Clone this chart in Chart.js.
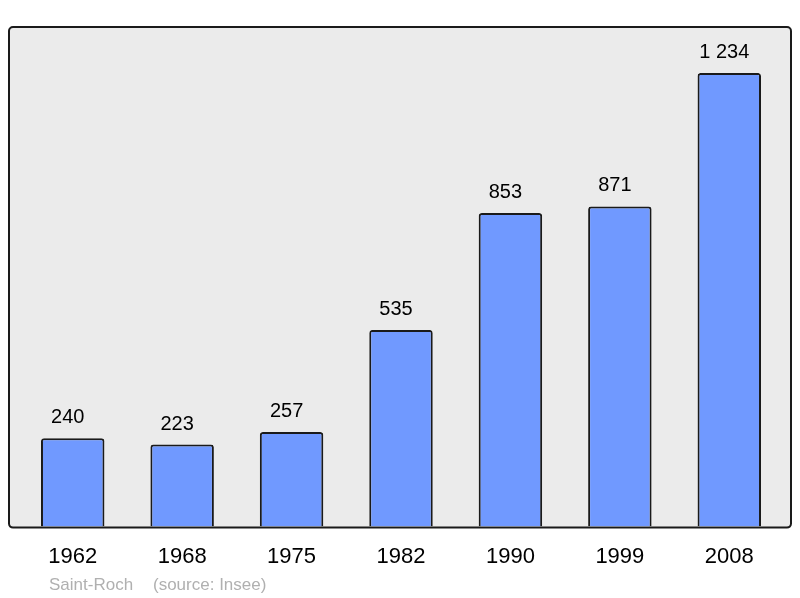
<!DOCTYPE html>
<html>
<head>
<meta charset="utf-8">
<script src="https://cdn.jsdelivr.net/npm/chart.js@4"></script>
<style>
    body { margin: 0; background: #ffffff; }
</style>
</head>
<body>
<canvas id="popChart" width="800" height="598"></canvas>
<script>
const years = ["1962", "1968", "1975", "1982", "1990", "1999", "2008"];
const population = [240, 223, 257, 535, 853, 871, 1234];
const valueLabels = ["240", "223", "257", "535", "853", "871", "1 234"];

// Grey framed panel behind the bars
const panelPlugin = {
    id: "panel",
    beforeDraw: (chart) => {
        const { ctx, chartArea } = chart;
        const x = chartArea.left - 9;
        const y = chartArea.top;
        const w = chartArea.right + 7 - x;
        const h = chartArea.bottom + 1 - y;
        ctx.save();
        ctx.beginPath();
        ctx.roundRect(x, y, w, h, 4);
        ctx.fillStyle = "#ebebeb";
        ctx.fill();
        ctx.lineWidth = 2;
        ctx.strokeStyle = "#1a1a1a";
        ctx.stroke();
        ctx.restore();
    },
};

// Value above each bar, plus the footer text
const labelPlugin = {
    id: "valueLabels",
    afterDatasetsDraw: (chart) => {
        const { ctx } = chart;
        const meta = chart.getDatasetMeta(0);
        ctx.save();
        ctx.font = "20px 'Liberation Sans', Arial, sans-serif";
        ctx.fillStyle = "#000000";
        ctx.textAlign = "center";
        ctx.textBaseline = "alphabetic";
        meta.data.forEach((bar, i) => {
            ctx.fillText(valueLabels[i], bar.x - 5, bar.y - 15);
        });
        ctx.font = "17px 'Liberation Sans', Arial, sans-serif";
        ctx.fillStyle = "#b0b0b0";
        ctx.textAlign = "left";
        ctx.fillText("Saint-Roch", 49, 590);
        ctx.fillText("(source: Insee)", 153, 590);
        ctx.restore();
    },
};

const ctx = document.getElementById("popChart").getContext("2d");

new Chart(ctx, {
    type: "bar",
    data: {
        labels: years,
        datasets: [
            {
                data: population,
                backgroundColor: "#7099ff",
                borderColor: "#1a1a1a",
                borderWidth: 2,
                borderSkipped: "bottom",
                borderRadius: 3,
                barPercentage: 0.58,
                categoryPercentage: 1,
            },
        ],
    },
    options: {
        responsive: false,
        devicePixelRatio: 1,
        animation: false,
        layout: {
            padding: { left: 18, right: 16, top: 27, bottom: 19 },
        },
        plugins: {
            legend: { display: false },
            tooltip: { enabled: false },
        },
        scales: {
            x: {
                grid: { display: false },
                border: { display: false },
                ticks: {
                    color: "#000000",
                    padding: 9,
                    font: { family: "'Liberation Sans', Arial, sans-serif", size: 22 },
                },
            },
            y: {
                display: false,
                min: 0,
                max: 1359,
            },
        },
    },
    plugins: [panelPlugin, labelPlugin],
});
</script>
</body>
</html>
